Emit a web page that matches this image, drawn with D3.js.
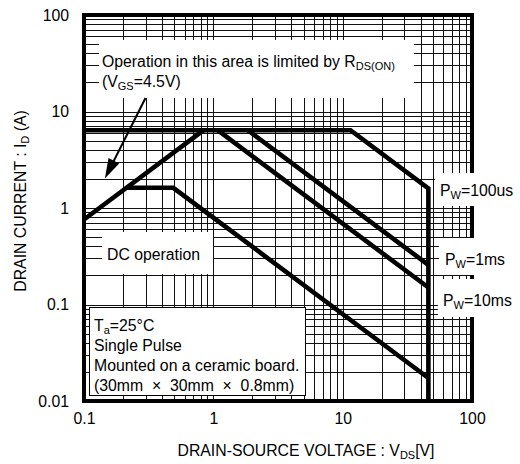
<!DOCTYPE html>
<html><head><meta charset="utf-8">
<script src="https://cdn.jsdelivr.net/npm/d3@7"></script>
<style>
html,body{margin:0;padding:0;background:#fff;}
svg{display:block;}
text{font-family:"Liberation Sans",Arial,Helvetica,sans-serif;fill:#000;}
</style>
</head><body>
<svg id="c" width="520" height="464"></svg>
<script>
// ---- data ----
const xTickValues = [0.1, 1, 10, 100];
const xTickLabels = ["0.1", "1", "10", "100"];
const yTickValues = [0.01, 0.1, 1, 10, 100];
const yTickLabels = ["0.01", "0.1", "1", "10", "100"];

const rdsV = [0.1, 0.842];          const rdsI = [0.76, 6.4];
const pw100usV = [0.1, 11.5, 46, 46]; const pw100usI = [6.4, 6.4, 1.6, 0.01];
const pw1msV = [1.85, 46];          const pw1msI = [6.4, 0.257];
const pw10msV = [1.08, 46];         const pw10msI = [6.4, 0.150];
const dcV = [0.213, 0.49, 46];      const dcI = [1.62, 1.62, 0.0173];
const arrowV = [0.299, 0.145];      const arrowI = [13.8, 2.02];

// ---- layout ----
const W = 520, H = 464;
const L = 84, R = 472, T = 15, B = 401;
const FS = 15.8, SUB = 11;

const svg = d3.select("#c");
const x = d3.scaleLog().domain([0.1, 100]).range([L, R]);
const y = d3.scaleLog().domain([0.01, 100]).range([B, T]);

// grid
const g = svg.append("g");
g.selectAll("line.gx").data(x.ticks()).enter().append("line")
  .attr("x1", d => Math.round(x(d)) + 0.5).attr("x2", d => Math.round(x(d)) + 0.5)
  .attr("y1", T).attr("y2", B).attr("stroke", "#111").attr("stroke-width", 1);
g.selectAll("line.gy").data(y.ticks()).enter().append("line")
  .attr("y1", d => Math.round(y(d)) + 0.5).attr("y2", d => Math.round(y(d)) + 0.5)
  .attr("x1", L).attr("x2", R).attr("stroke", "#111").attr("stroke-width", 1);

// white annotation boxes (covering grid)
svg.append("rect").attr("x", 99).attr("y", 40).attr("width", 315).attr("height", 58).attr("fill", "#fff");
svg.append("rect").attr("x", 102).attr("y", 232).attr("width", 111).attr("height", 42).attr("fill", "#fff");
svg.append("rect").attr("x", 89.5).attr("y", 307.5).attr("width", 216).attr("height", 88).attr("fill", "#fff")
  .attr("stroke", "#000").attr("stroke-width", 1);

// frame
svg.append("rect").attr("x", L).attr("y", T).attr("width", R - L).attr("height", B - T)
  .attr("fill", "none").attr("stroke", "#000").attr("stroke-width", 4);

// label backgrounds (cover right frame)
svg.append("rect").attr("x", 435).attr("y", 173).attr("width", 85).attr("height", 33).attr("fill", "#fff");
svg.append("rect").attr("x", 439).attr("y", 238).attr("width", 81).attr("height", 37).attr("fill", "#fff");
svg.append("rect").attr("x", 438).attr("y", 279).attr("width", 82).attr("height", 38).attr("fill", "#fff");

// data lines
const line = d3.line().x(d => x(d[0])).y(d => y(d[1]));
const series = [
  [rdsV, rdsI], [pw100usV, pw100usI], [pw1msV, pw1msI], [pw10msV, pw10msI], [dcV, dcI]
];
series.forEach(([vs, is]) => {
  svg.append("path").datum(vs.map((v, i) => [v, is[i]]))
    .attr("d", line).attr("fill", "none").attr("stroke", "#000")
    .attr("stroke-width", 4.6).attr("stroke-linejoin", "miter").attr("stroke-linecap", "butt");
});

// axes (labels only)
const xAxis = d3.axisBottom(x).tickValues(xTickValues).tickFormat((d, i) => xTickLabels[i]).tickSize(0).tickPadding(12);
const yAxis = d3.axisLeft(y).tickValues(yTickValues).tickFormat((d, i) => yTickLabels[i]).tickSize(0).tickPadding(15);
const gx = svg.append("g").attr("transform", `translate(0,${B})`).call(xAxis);
const gy = svg.append("g").attr("transform", `translate(${L},0)`).call(yAxis);
[gx, gy].forEach(a => {
  a.select(".domain").remove();
  a.selectAll("text").attr("font-size", FS).attr("font-family", '"Liberation Sans",Arial,sans-serif').attr("fill", "#000");
});

// rich text helper
function rich(parent, px, py, parts, opts = {}) {
  const t = parent.append("text").attr("x", px).attr("y", py).attr("font-size", FS)
    .attr("xml:space", "preserve").style("white-space", "pre");
  if (opts.anchor) t.attr("text-anchor", opts.anchor);
  if (opts.transform) t.attr("transform", opts.transform);
  let shifted = 0;
  parts.forEach(p => {
    const s = t.append("tspan").text(p[0]);
    if (p[1]) { s.attr("font-size", SUB).attr("dy", 3 - shifted); shifted = 3; }
    else if (shifted) { s.attr("dy", -shifted); shifted = 0; }
  });
  return t;
}

// titles
rich(svg, 306, 455.5, [["DRAIN-SOURCE VOLTAGE : V"], ["DS", 1], ["[V]"]], { anchor: "middle" });
rich(svg, 0, 0, [["DRAIN CURRENT : I"], ["D", 1], [" (A)"]], { anchor: "middle", transform: "translate(26,201) rotate(-90)" });

// annotations
rich(svg, 102, 67, [["Operation in this area is limited by R"], ["DS(ON)", 1]]);
rich(svg, 102, 87, [["(V"], ["GS", 1], ["=4.5V)"]]);
rich(svg, 107, 259.5, [["DC operation"]]);
rich(svg, 94, 330.5, [["T"], ["a", 1], ["=25°C"]]);
rich(svg, 94, 350.5, [["Single Pulse"]]);
rich(svg, 94, 370.5, [["Mounted on a ceramic board."]]);
rich(svg, 94, 390.5, [["(30mm  ×  30mm  ×  0.8mm)"]]);
rich(svg, 440, 195.5, [["P"], ["W", 1], ["=100us"]]);
rich(svg, 445, 265, [["P"], ["W", 1], ["=1ms"]]);
rich(svg, 443, 305.5, [["P"], ["W", 1], ["=10ms"]]);

// arrow
const ax0 = x(arrowV[0]), ay0 = y(arrowI[0]), ax1 = x(arrowV[1]), ay1 = y(arrowI[1]);
const len = Math.hypot(ax1 - ax0, ay1 - ay0);
const ux = (ax1 - ax0) / len, uy = (ay1 - ay0) / len;
const headL = 20, headW = 6;
const bx = ax1 - ux * headL, by = ay1 - uy * headL;
svg.append("line").attr("x1", ax0).attr("y1", ay0).attr("x2", bx + ux * 2).attr("y2", by + uy * 2)
  .attr("stroke", "#000").attr("stroke-width", 2);
svg.append("path").attr("d", `M${ax1},${ay1}L${bx - uy * headW},${by + ux * headW}L${bx + uy * headW},${by - ux * headW}Z`)
  .attr("fill", "#000");
</script>
</body></html>
